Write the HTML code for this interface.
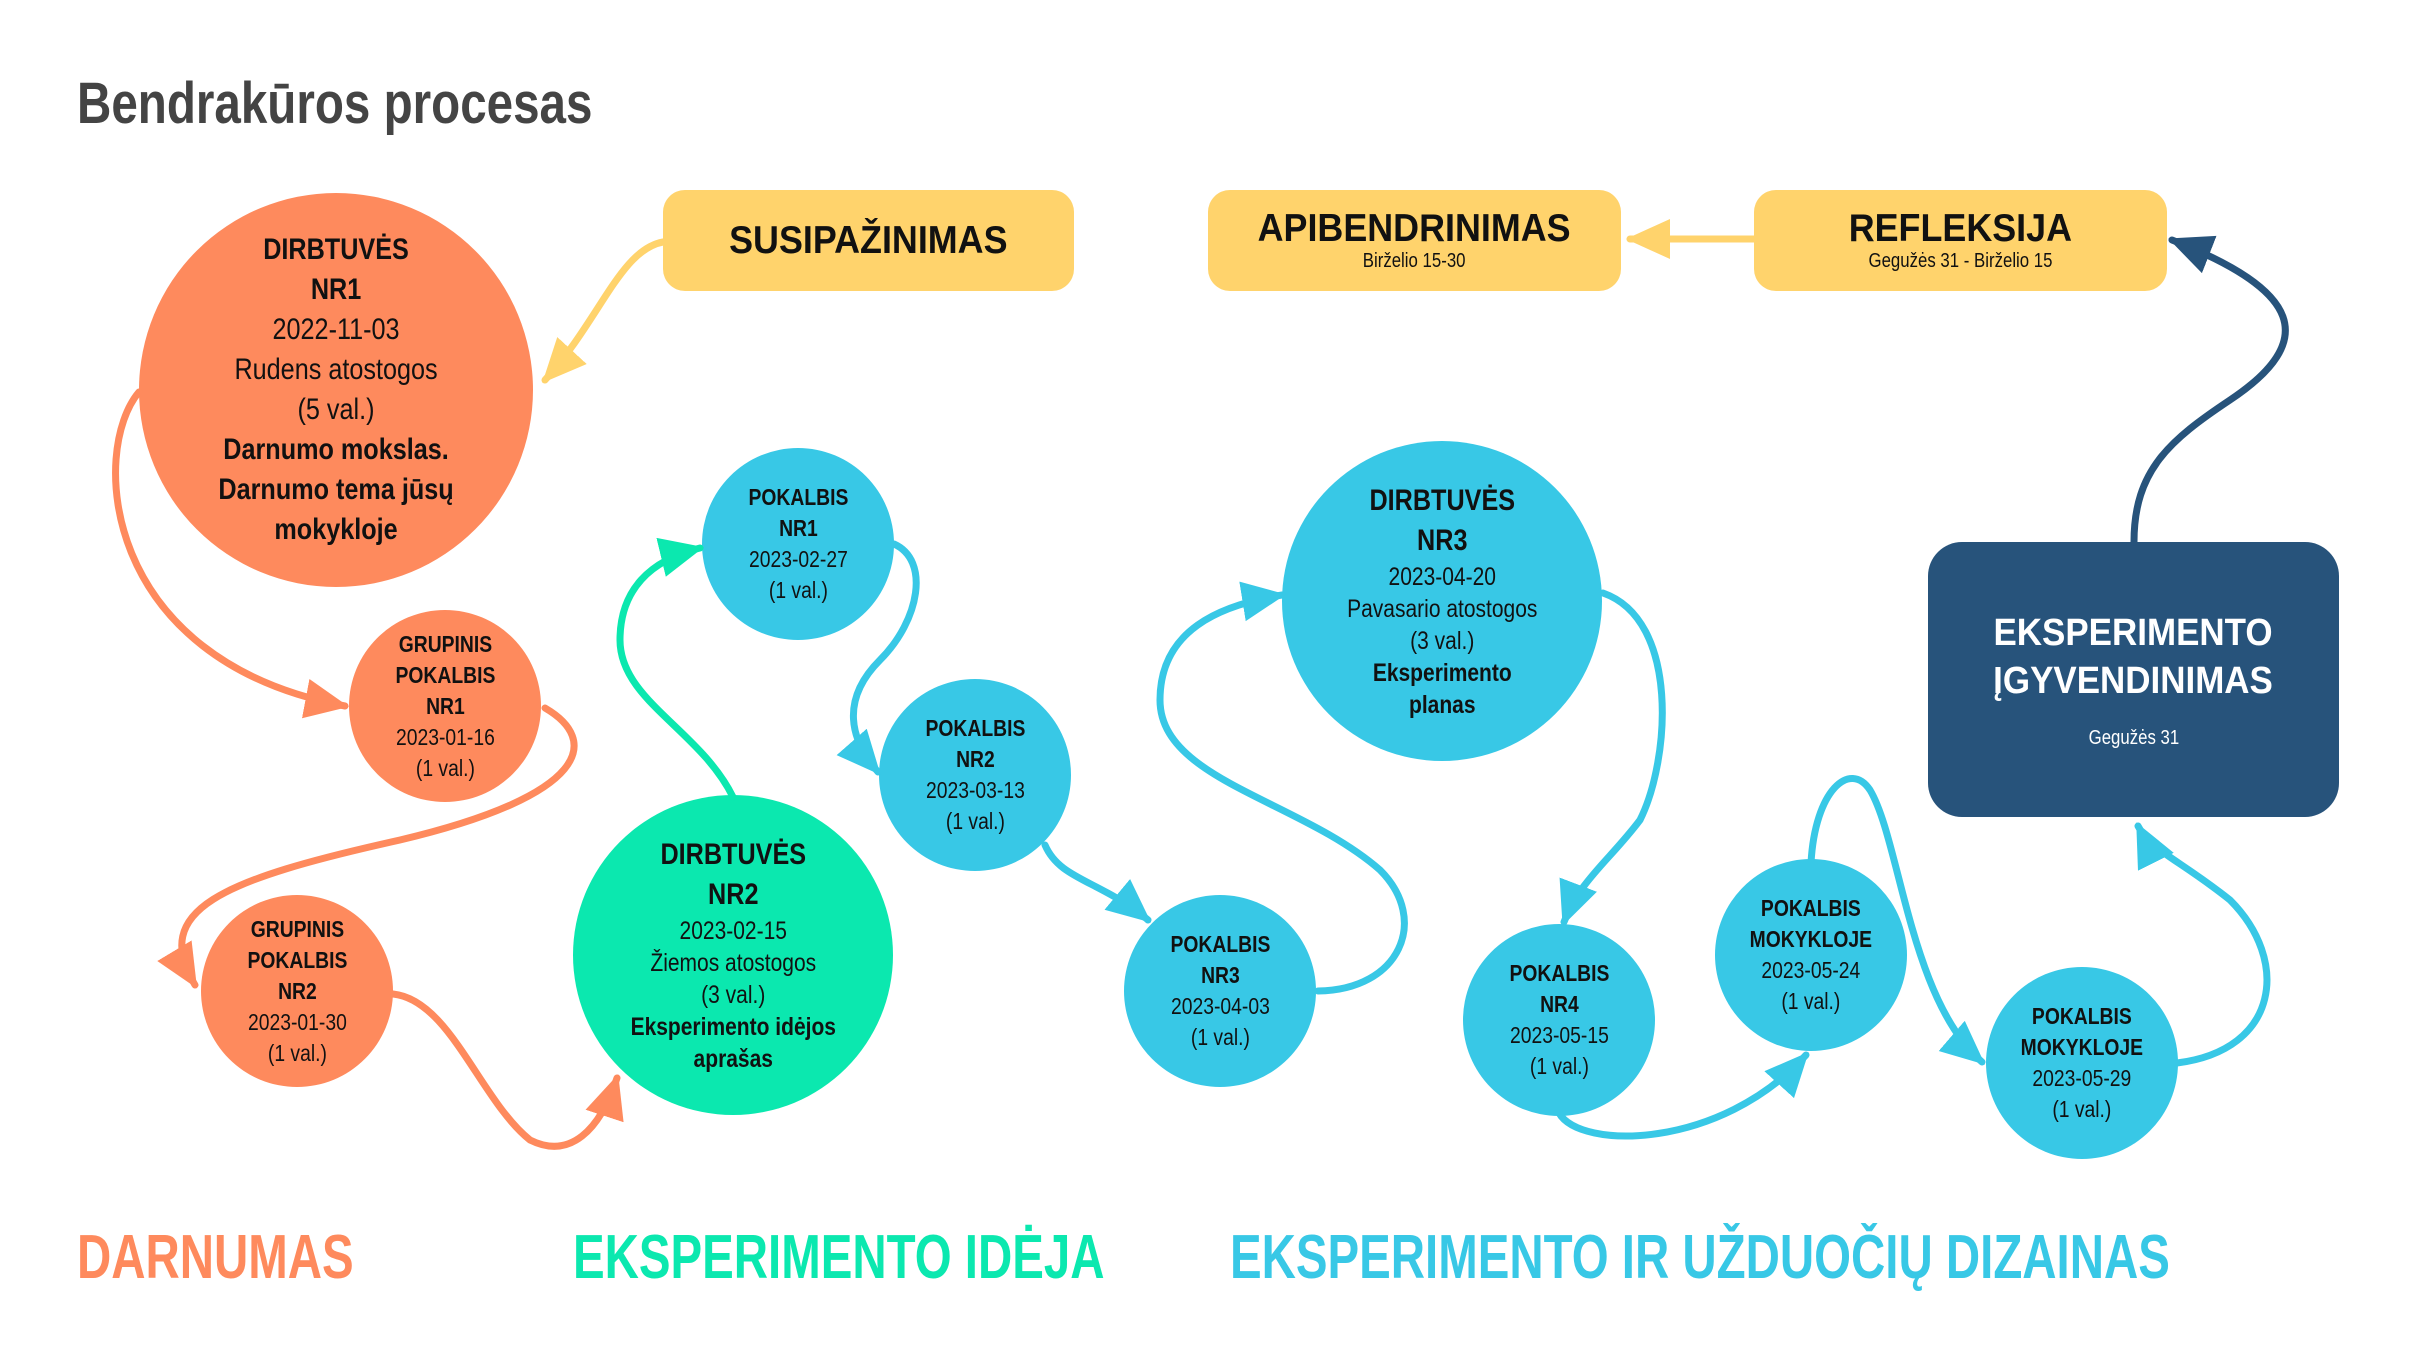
<!DOCTYPE html>
<html><head><meta charset="utf-8"><style>
body{margin:0;width:2417px;height:1360px;background:#fff;position:relative;overflow:hidden;font-family:"Liberation Sans Narrow","Liberation Sans",sans-serif;}
.c{position:absolute;border-radius:50%;display:flex;flex-direction:column;align-items:center;justify-content:center;text-align:center;color:#111;}
.c>div,.b>div{transform:scaleX(.84);white-space:nowrap}
.b>div.t{transform:scaleX(.92)}
.b{position:absolute;border-radius:22px;display:flex;flex-direction:column;align-items:center;justify-content:center;text-align:center;}
.o{background:#FE8A5D}.g{background:#0BE8AF}.bl{background:#38C8E6}.y{background:#FFD36C;color:#111}
.sm{font-size:23px;line-height:31px}
.md{font-size:25px;line-height:32px}
.lg{font-size:30px;line-height:40px}
b{font-weight:bold}
.lbl{position:absolute;font-weight:bold;font-size:62px;top:1222px;white-space:nowrap;transform:scaleX(.765);transform-origin:left center}
</style></head><body>
<div style="position:absolute;left:77px;top:70px;font-size:58px;font-weight:bold;color:#444;white-space:nowrap;transform:scaleX(.82);transform-origin:left center">Bendrakūros procesas</div>

<div class="b y" style="left:663px;top:190px;width:411px;height:101px"><div class="t" style="font-size:39px;font-weight:bold">SUSIPAŽINIMAS</div></div>
<div class="b y" style="left:1208px;top:190px;width:413px;height:101px"><div class="t" style="font-size:39px;font-weight:bold;line-height:42px">APIBENDRINIMAS</div><div style="font-size:20px">Birželio 15-30</div></div>
<div class="b y" style="left:1754px;top:190px;width:413px;height:101px"><div class="t" style="font-size:39px;font-weight:bold;line-height:42px">REFLEKSIJA</div><div style="font-size:20px">Gegužės 31 - Birželio 15</div></div>
<div class="b" style="left:1928px;top:542px;width:411px;height:275px;background:#27537B;color:#fff;border-radius:34px"><div class="t" style="font-size:38px;font-weight:bold;line-height:48px">EKSPERIMENTO<br>ĮGYVENDINIMAS</div><div style="font-size:20px;margin-top:22px">Gegužės 31</div></div>

<div class="c o lg" style="left:139px;top:193px;width:394px;height:394px"><div><b>DIRBTUVĖS<br>NR1</b><br>2022-11-03<br>Rudens atostogos<br>(5 val.)<br><b>Darnumo mokslas.<br>Darnumo tema jūsų<br>mokykloje</b></div></div>
<div class="c o sm" style="left:349px;top:610px;width:192px;height:192px"><div><b>GRUPINIS<br>POKALBIS<br>NR1</b><br>2023-01-16<br>(1 val.)</div></div>
<div class="c o sm" style="left:201px;top:895px;width:192px;height:192px"><div><b>GRUPINIS<br>POKALBIS<br>NR2</b><br>2023-01-30<br>(1 val.)</div></div>
<div class="c g md" style="left:573px;top:795px;width:320px;height:320px"><div><b style="font-size:30px;line-height:40px">DIRBTUVĖS<br>NR2</b><br>2023-02-15<br>Žiemos atostogos<br>(3 val.)<br><b>Eksperimento idėjos<br>aprašas</b></div></div>
<div class="c bl sm" style="left:702px;top:448px;width:192px;height:192px"><div><b>POKALBIS<br>NR1</b><br>2023-02-27<br>(1 val.)</div></div>
<div class="c bl sm" style="left:879px;top:679px;width:192px;height:192px"><div><b>POKALBIS<br>NR2</b><br>2023-03-13<br>(1 val.)</div></div>
<div class="c bl sm" style="left:1124px;top:895px;width:192px;height:192px"><div><b>POKALBIS<br>NR3</b><br>2023-04-03<br>(1 val.)</div></div>
<div class="c bl md" style="left:1282px;top:441px;width:320px;height:320px"><div><b style="font-size:30px;line-height:40px">DIRBTUVĖS<br>NR3</b><br>2023-04-20<br>Pavasario atostogos<br>(3 val.)<br><b>Eksperimento<br>planas</b></div></div>
<div class="c bl sm" style="left:1463px;top:924px;width:192px;height:192px"><div><b>POKALBIS<br>NR4</b><br>2023-05-15<br>(1 val.)</div></div>
<div class="c bl sm" style="left:1715px;top:859px;width:192px;height:192px"><div><b>POKALBIS<br>MOKYKLOJE</b><br>2023-05-24<br>(1 val.)</div></div>
<div class="c bl sm" style="left:1986px;top:967px;width:192px;height:192px"><div><b>POKALBIS<br>MOKYKLOJE</b><br>2023-05-29<br>(1 val.)</div></div>

<svg style="position:absolute;left:0;top:0" width="2417" height="1360" fill="none" stroke-width="7" stroke-linecap="round">
<defs>
<marker id="mY" markerUnits="userSpaceOnUse" markerWidth="50" markerHeight="50" refX="40" refY="20" orient="auto"><path d="M0,0L44,20L0,40z" fill="#FFD36C"/></marker>
<marker id="mO" markerUnits="userSpaceOnUse" markerWidth="50" markerHeight="50" refX="40" refY="20" orient="auto"><path d="M0,0L44,20L0,40z" fill="#FE8A5D"/></marker>
<marker id="mG" markerUnits="userSpaceOnUse" markerWidth="50" markerHeight="50" refX="40" refY="20" orient="auto"><path d="M0,0L44,20L0,40z" fill="#0BE8AF"/></marker>
<marker id="mB" markerUnits="userSpaceOnUse" markerWidth="50" markerHeight="50" refX="40" refY="20" orient="auto"><path d="M0,0L44,20L0,40z" fill="#38C8E6"/></marker>
<marker id="mD" markerUnits="userSpaceOnUse" markerWidth="50" markerHeight="50" refX="40" refY="20" orient="auto"><path d="M0,0L44,20L0,40z" fill="#27537B"/></marker>
</defs>
<path d="M663,242 C620,250 600,320 545,380" stroke="#FFD36C" marker-end="url(#mY)"/>
<path d="M1754,239 L1630,239" stroke="#FFD36C" marker-end="url(#mY)"/>
<path d="M139,392 C90,450 100,660 345,706" stroke="#FE8A5D" marker-end="url(#mO)"/>
<path d="M545,708 C600,740 590,795 400,840 C220,880 150,910 195,985" stroke="#FE8A5D" marker-end="url(#mO)"/>
<path d="M393,994 C450,1000 480,1100 530,1140 C570,1160 600,1130 617,1078" stroke="#FE8A5D" marker-end="url(#mO)"/>
<path d="M733,797 C700,730 620,700 620,640 C620,590 650,560 700,548" stroke="#0BE8AF" marker-end="url(#mG)"/>
<path d="M894,544 C930,560 920,620 880,660 C840,700 850,740 878,772" stroke="#38C8E6" marker-end="url(#mB)"/>
<path d="M1045,845 C1060,880 1100,880 1148,920" stroke="#38C8E6" marker-end="url(#mB)"/>
<path d="M1318,991 C1400,990 1430,920 1380,870 C1300,800 1160,780 1160,700 C1160,630 1220,605 1282,595" stroke="#38C8E6" marker-end="url(#mB)"/>
<path d="M1603,593 C1680,620 1670,760 1640,820 C1610,860 1580,880 1564,922" stroke="#38C8E6" marker-end="url(#mB)"/>
<path d="M1559,1113 C1580,1150 1720,1150 1806,1055" stroke="#38C8E6" marker-end="url(#mB)"/>
<path d="M1811,863 C1815,790 1850,760 1870,790 C1900,840 1910,1000 1982,1062" stroke="#38C8E6" marker-end="url(#mB)"/>
<path d="M2177,1063 C2280,1050 2290,960 2230,900 C2180,860 2150,850 2138,826" stroke="#38C8E6" marker-end="url(#mB)"/>
<path d="M2134,542 C2134,470 2170,440 2230,400 C2320,340 2300,290 2172,240" stroke="#27537B" marker-end="url(#mD)"/>
</svg>

<div class="lbl" style="left:77px;color:#FE8A5D">DARNUMAS</div>
<div class="lbl" style="left:573px;color:#0BE8AF">EKSPERIMENTO IDĖJA</div>
<div class="lbl" style="left:1230px;color:#38C8E6">EKSPERIMENTO IR UŽDUOČIŲ DIZAINAS</div>
</body></html>
